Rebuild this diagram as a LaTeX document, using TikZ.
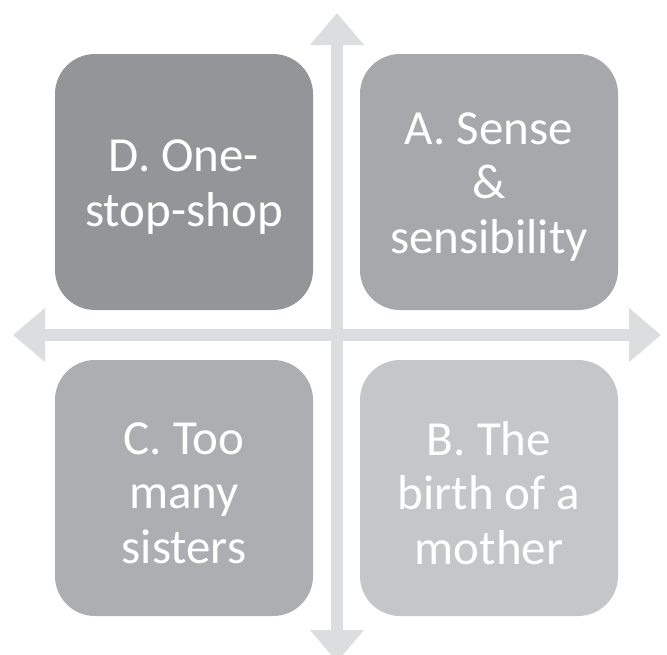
\documentclass[tikz,border=0pt]{standalone}
\usepackage{fontspec}
\setmainfont{Carlito}
\usetikzlibrary{arrows.meta}
\definecolor{arrowgray}{HTML}{DCDDDE}
\definecolor{colD}{HTML}{939598}
\definecolor{colA}{HTML}{A7A8AB}
\definecolor{colC}{HTML}{ADAEB1}
\definecolor{colB}{HTML}{C5C6C8}
\tikzset{
  axis/.style={draw=arrowgray, line width=12pt,
    {Triangle[width=52pt,length=32pt]}-{Triangle[width=52pt,length=32pt]}},
  quad/.style={rounded corners=40pt, draw=none, minimum width=258pt, minimum height=256pt,
    inner sep=0pt},
  quadtext/.style={text=white, align=center, inner sep=0pt, yshift=-5pt,
    font=\fontsize{49pt}{54.5pt}\selectfont}
}
\begin{document}
\begin{tikzpicture}[x=1pt,y=-1pt]
\useasboundingbox (0,0) rectangle (667,654);
\clip (0,0) rectangle (667,654);
\fill[white] (0,0) rectangle (667,654);
\coordinate (L) at (13,335);
\coordinate (R) at (661,335);
\coordinate (T) at (337,13);
\coordinate (Bt) at (337,662);
\draw[axis] (L) -- (R);
\draw[axis] (T) -- (Bt);
\node[quad, fill=colD] (D) at (184,182) {};
\node[quad, fill=colA] (A) at (489,182) {};
\node[quad, fill=colC] (C) at (184,488) {};
\node[quad, fill=colB] (B) at (489,488) {};
\node[quadtext] (Dt) at (D.center) {D. One-\\stop-shop};
\node[quadtext] (At) at (A.center) {A. Sense\\\&\\sensibility};
\node[quadtext] (Ct) at (C.center) {C. Too\\many\\sisters};
\node[quadtext] (Bt2) at (B.center) {B. The\\birth of a\\mother};
\end{tikzpicture}
\end{document}
